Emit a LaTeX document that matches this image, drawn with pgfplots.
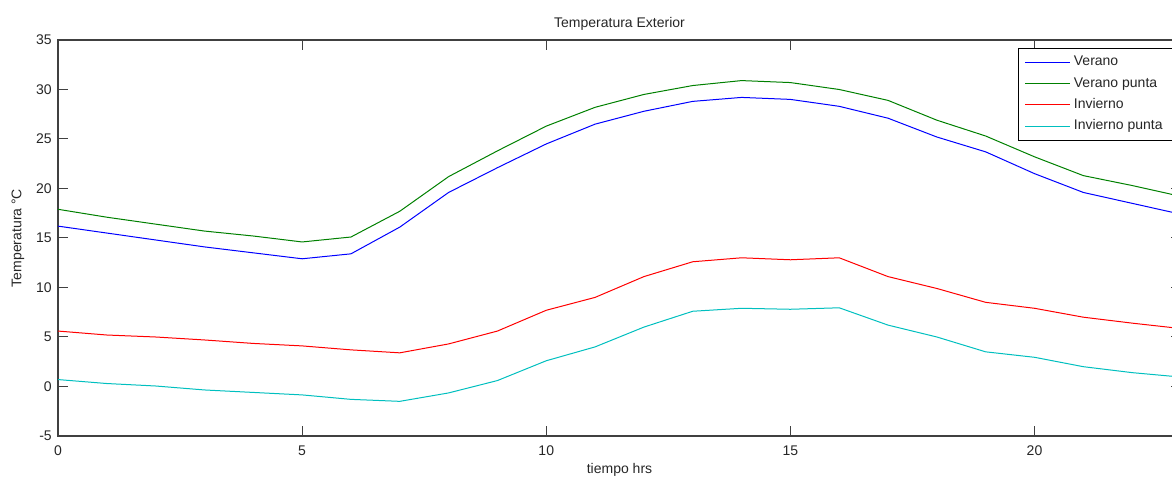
\documentclass[border=0pt]{standalone}
\usepackage{fontspec}
\setmainfont{Liberation Sans}
\usepackage{pgfplots}
\pgfplotsset{compat=1.18}
\definecolor{mblue}{rgb}{0,0,1}
\definecolor{mgreen}{rgb}{0,0.5,0}
\definecolor{mred}{rgb}{1,0,0}
\definecolor{mcyan}{rgb}{0,0.75,0.75}
\definecolor{axgray}{HTML}{404040}
\definecolor{txt}{HTML}{262626}

% hourly outdoor temperatures
\pgfplotstableread{
h  ver   verp  inv   invp
0  16.2  17.9  5.6   0.7
1  15.5  17.1  5.2   0.3
2  14.8  16.4  5.0   0.05
3  14.1  15.7  4.7  -0.35
4  13.5  15.2  4.35 -0.6
5  12.9  14.6  4.1  -0.85
6  13.4  15.1  3.7  -1.3
7  16.1  17.7  3.4  -1.5
8  19.6  21.2  4.3  -0.65
9  22.1  23.8  5.6   0.6
10 24.5  26.3  7.7   2.6
11 26.5  28.2  9.0   4.0
12 27.8  29.5  11.1  6.0
13 28.8  30.4  12.6  7.6
14 29.2  30.9  13.0  7.9
15 29.0  30.7  12.8  7.8
16 28.3  30.0  13.0  7.95
17 27.1  28.9  11.1  6.2
18 25.2  26.9  9.9   5.0
19 23.7  25.3  8.5   3.5
20 21.5  23.2  7.9   2.95
21 19.6  21.3  7.0   2.0
22 18.5  20.3  6.4   1.4
23 17.4  19.2  5.85  0.95
}\temps

\begin{document}
\begin{tikzpicture}
\begin{axis}[
  name=ax, at={(0,0)}, anchor=south west,
  scale only axis, width=842.25pt, height=297pt,
  xmin=0, xmax=23, ymin=-5, ymax=35,
  xtick={0,5,...,20}, ytick={-5,0,...,35},
  tick align=inside, major tick length=7.5pt,
  tick style={axgray, line width=0.75pt},
  axis line style={axgray, line width=0.9pt},
  /pgf/number format/assume math mode=true,
  ticklabel style={font=\fontsize{10.5}{12}\selectfont, text=txt},
  xticklabel style={anchor=base, yshift=-15pt, inner sep=0pt},
  yticklabel style={anchor=east, xshift=-4.5pt, inner sep=0pt},
  title={Temperatura Exterior},
  title style={font=\fontsize{10.5}{12}\selectfont, text=txt, at={(axis description cs:0.5,1)}, anchor=base, yshift=3.4pt, inner sep=0pt},
  xlabel={tiempo hrs},
  xlabel style={font=\fontsize{10.5}{12}\selectfont, text=txt, at={(axis description cs:0.5,0)}, anchor=base, yshift=-28.5pt, inner sep=0pt},
  ylabel={Temperatura °C},
  ylabel style={font=\fontsize{10.5}{12}\selectfont, text=txt, at={(axis description cs:-0.0356,0.5)}, anchor=center, inner sep=0pt},
  legend image code/.code={\draw[#1] (0pt,0pt) -- (33.75pt,0pt);},
  legend style={draw=black, line width=0.75pt, fill=white,
    at={(axis description cs:0,1)}, anchor=north west, xshift=719.8pt, yshift=-5.8pt,
    font=\fontsize{10.5}{12}\selectfont, text=txt,
    inner xsep=5pt, inner ysep=2.5pt,
    nodes={inner sep=2.25pt, text height=8.5pt, text depth=3pt},
    cells={anchor=west}},
  every axis plot/.append style={line width=0.75pt},
]
\addplot[mblue] table[x=h, y=ver] {\temps};
\addlegendentry{Verano}
\addplot[mgreen] table[x=h, y=verp] {\temps};
\addlegendentry{Verano punta}
\addplot[mred] table[x=h, y=inv] {\temps};
\addlegendentry{Invierno}
\addplot[mcyan] table[x=h, y=invp] {\temps};
\addlegendentry{Invierno punta}
\end{axis}
% the reference is cropped just short of the right axis edge
\pgfresetboundingbox
\path[use as bounding box] (-43.5pt,-30.75pt) rectangle (835.5pt,327pt);
\end{tikzpicture}
\end{document}
